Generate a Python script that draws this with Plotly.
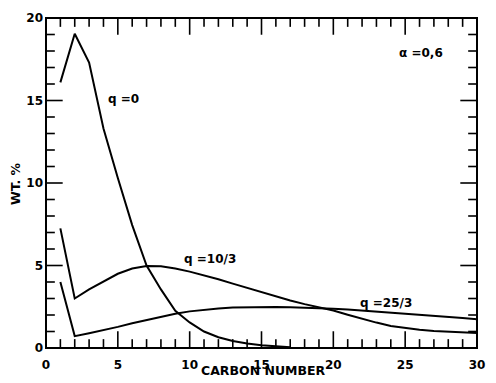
import plotly.graph_objects as go

# Carbon number (chain length)
carbon_q0 = [1, 2, 3, 4, 5, 6, 7, 8, 9, 10, 11, 12, 13, 14, 15, 16, 17]
wt_q0 = [16.1, 19.05, 17.3, 13.3, 10.3, 7.45, 5.0, 3.55, 2.25, 1.55, 1.0,
         0.65, 0.42, 0.27, 0.17, 0.09, 0.04]

carbon = list(range(1, 31))
wt_q10_3 = [7.25, 3.0, 3.55, 4.05, 4.5, 4.82, 4.97, 4.95, 4.82, 4.63,
            4.42, 4.17, 3.9, 3.64, 3.37, 3.11, 2.88, 2.66, 2.48, 2.27,
            2.02, 1.77, 1.54, 1.33, 1.2, 1.1, 1.03, 0.98, 0.94, 0.91]
wt_q25_3 = [4.0, 0.72, 0.9, 1.08, 1.28, 1.5, 1.7, 1.9, 2.07, 2.22,
            2.33, 2.4, 2.45, 2.47, 2.48, 2.48, 2.47, 2.45, 2.42, 2.38,
            2.33, 2.27, 2.22, 2.16, 2.1, 2.04, 1.97, 1.9, 1.82, 1.74]

x_tick_step = 5
y_tick_step = 5
x_minor_ticks = list(range(0, 31))
y_minor_ticks = list(range(0, 21))

curve_labels = ["q =0", "q =10/3", "q =25/3"]
label_pos = [(5.4, 15.1), (11.4, 5.4), (23.65, 2.75)]
alpha_label = "α =0,6"
alpha_pos = (26.1, 17.9)

FONT = "DejaVu Sans"
W, H = 496, 383
M = dict(l=46, r=11, t=17, b=31)
PLOT_W = W - M["l"] - M["r"]
PLOT_H = H - M["t"] - M["b"]
MAJOR_LEN, MINOR_LEN = 17, 9  # tick lengths in pixels

line_style = dict(color="black", width=2)

fig = go.Figure()
for xs, ys in [(carbon_q0, wt_q0), (carbon, wt_q10_3), (carbon, wt_q25_3)]:
    fig.add_trace(go.Scatter(x=xs, y=ys, mode="lines", line=line_style,
                             showlegend=False, hoverinfo="skip"))

for txt, (lx, ly) in zip(curve_labels + [alpha_label], label_pos + [alpha_pos]):
    fig.add_annotation(x=lx, y=ly, xref="x", yref="y", text=txt,
                       showarrow=False)

# axis titles placed in paper coordinates
fig.add_annotation(x=0.5045, y=-0.069, xref="paper", yref="paper",
                   text="CARBON NUMBER", showarrow=False,
                   xanchor="center", yanchor="middle",
                   font=dict(size=12.5))
fig.add_annotation(x=-0.0706, y=0.499, xref="paper", yref="paper",
                   text="WT. %", showarrow=False, textangle=-90,
                   xanchor="center", yanchor="middle",
                   font=dict(size=12.5))

# inward tick marks on all four sides, major every 5 units, minor every unit
tick_line = dict(color="black", width=1.6)
for v in x_minor_ticks:
    frac = (MAJOR_LEN if v % x_tick_step == 0 else MINOR_LEN) / PLOT_H
    fig.add_shape(type="line", xref="x", yref="paper", x0=v, x1=v,
                  y0=0, y1=frac, line=tick_line, layer="above")
    fig.add_shape(type="line", xref="x", yref="paper", x0=v, x1=v,
                  y0=1, y1=1 - frac, line=tick_line, layer="above")
for v in y_minor_ticks:
    frac = (MAJOR_LEN if v % y_tick_step == 0 else MINOR_LEN) / PLOT_W
    fig.add_shape(type="line", xref="paper", yref="y", x0=0, x1=frac,
                  y0=v, y1=v, line=tick_line, layer="above")
    fig.add_shape(type="line", xref="paper", yref="y", x0=1, x1=1 - frac,
                  y0=v, y1=v, line=tick_line, layer="above")

# heavier frame around the plotting area
fig.add_shape(type="rect", xref="paper", yref="paper", x0=0, y0=0, x1=1, y1=1,
              line=dict(color="black", width=2), fillcolor="rgba(0,0,0,0)",
              layer="above")

fig.update_xaxes(range=[0, 30], dtick=x_tick_step, tick0=0, showline=False,
                 showgrid=False, zeroline=False, ticks="",
                 ticklabelstandoff=8)
fig.update_yaxes(range=[0, 20], dtick=y_tick_step, tick0=0, showline=False,
                 showgrid=False, zeroline=False, ticks="",
                 ticklabelstandoff=2)

fig.update_layout(
    width=W, height=H,
    margin=M,
    plot_bgcolor="white", paper_bgcolor="white",
    font=dict(family=FONT, size=12, color="black", weight="bold"),
)

fig.write_html("out.html")
